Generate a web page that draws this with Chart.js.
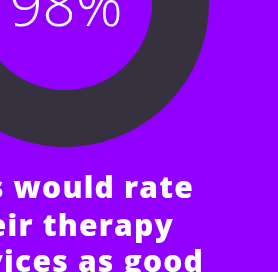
<!DOCTYPE html>
<html>
<head>
<meta charset="utf-8">
<script src="https://cdn.jsdelivr.net/npm/chart.js@4"></script>
<style>
  html, body { margin: 0; padding: 0; background: #9100ff; overflow: hidden; width: 278px; height: 272px; }
  #wrap { position: absolute; left: -79px; top: -141px; width: 357px; height: 413px; }
</style>
</head>
<body>
<div id="wrap"><canvas id="ring" width="357" height="413"></canvas></div>
<script>
// share of answers
var labels = ["Good", "Other"];
var values = [98, 2];
var ringColors = ["#35313e", "#35313e"];
var centerLabel = "98%";
// caption lines (cut off by the frame)
var caption = ["patients would rate", "their therapy", "services as good"];

// draws the percent in the middle and the caption below
var textPlugin = {
  id: "texts",
  afterDraw: function(chart){
    var ctx = chart.ctx;
    var meta = chart.getDatasetMeta(0).data[0];
    ctx.save();
    ctx.fillStyle = "#ffffff";
    ctx.textAlign = "center";
    ctx.textBaseline = "alphabetic";
    ctx.font = "300 58px 'Open Sans'";
    ctx.fillText(centerLabel, meta.x + 1, meta.y + 23);
    // caption, right edges
    var ends = [194, 174, 204];
    var bases = [198, 236, 272];
    ctx.textAlign = "right";
    ctx.font = "800 30px 'Open Sans'";
    ctx.letterSpacing = "1.2px";
    for (var i = 0; i < caption.length; i++) {
      ctx.fillText(caption[i], ends[i] + 79, bases[i] + 141);
    }
    ctx.restore();
  }
};

new Chart(document.getElementById("ring"), {
  type: "doughnut",
  data: {
    labels: labels,
    datasets: [{
      data: values,
      backgroundColor: ringColors,
      borderWidth: 0
    }]
  },
  options: {
    responsive: false,
    animation: false,
    cutout: "60.5%",
    layout: { padding: { left: 0, top: 0, right: 69, bottom: 125 } },
    plugins: {
      legend: { display: false },
      tooltip: { enabled: false }
    }
  },
  plugins: [textPlugin]
});
</script>
</body>
</html>
